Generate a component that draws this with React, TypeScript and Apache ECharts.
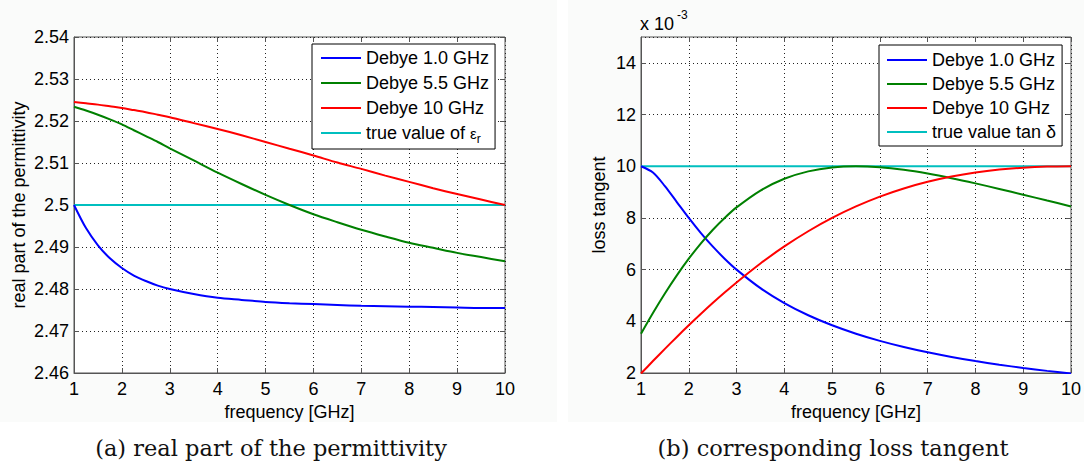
import React, { useEffect, useRef } from 'react';
import * as echarts from 'echarts';

// ---- data ----
const freq = [1, 1.25, 1.5, 1.75, 2, 2.25, 2.5, 2.75, 3, 3.5, 4, 4.5, 5, 5.5, 6, 6.5, 7, 7.5, 8, 8.5, 9, 9.5, 10];

// real part of the permittivity
const realDebye1 = [2.5, 2.4945, 2.4904, 2.4873, 2.485, 2.4832, 2.4819, 2.4808, 2.48, 2.4788, 2.4779, 2.4774, 2.4769, 2.4766, 2.4764, 2.4762, 2.476, 2.4759, 2.4758, 2.4757, 2.4756, 2.4755, 2.4755];
const realDebye55 = [2.5234, 2.5225, 2.5215, 2.5204, 2.5192, 2.5178, 2.5164, 2.515, 2.5135, 2.5106, 2.5077, 2.505, 2.5024, 2.5, 2.4978, 2.4959, 2.4941, 2.4925, 2.491, 2.4898, 2.4886, 2.4876, 2.4866];
const realDebye10 = [2.5245, 2.5242, 2.5239, 2.5235, 2.5231, 2.5226, 2.5221, 2.5215, 2.5209, 2.5195, 2.5181, 2.5166, 2.515, 2.5134, 2.5118, 2.5101, 2.5086, 2.507, 2.5055, 2.504, 2.5026, 2.5013, 2.5];
const realTrue = [2.5, 2.5];
const trueFreq = [1, 10];

// loss tangent (x 10^-3)
const tanDebye1 = [10, 9.756, 9.231, 8.615, 8.0, 7.423, 6.897, 6.423, 6.0, 5.283, 4.706, 4.235, 3.846, 3.52, 3.243, 3.006, 2.8, 2.62, 2.462, 2.321, 2.195, 2.082, 1.98];
const tanDebye55 = [3.52, 4.322, 5.077, 5.779, 6.423, 7.009, 7.534, 8.0, 8.408, 9.059, 9.514, 9.802, 9.955, 10, 9.962, 9.862, 9.716, 9.538, 9.337, 9.122, 8.899, 8.672, 8.445];
const tanDebye10 = [1.98, 2.462, 2.934, 3.396, 3.846, 4.283, 4.706, 5.113, 5.505, 6.236, 6.897, 7.484, 8.0, 8.445, 8.824, 9.139, 9.396, 9.6, 9.756, 9.869, 9.945, 9.987, 10];
const tanTrue = [10, 10];

const seriesNames = ['Debye 1.0 GHz', 'Debye 5.5 GHz', 'Debye 10 GHz'];
const trueNameLeft = 'true value of εr';
const trueNameRight = 'true value tan δ';
const colors = ['#0000ff', '#008000', '#ff0000', '#00bfbf'];

const xTicks = { min: 1, max: 10, interval: 1 };
const yLeft = { min: 2.46, max: 2.54, interval: 0.01 };
const yRight = { min: 2, max: 15, interval: 2 };

const captionLeft = '(a) real part of the permittivity';
const captionRight = '(b) corresponding loss tangent';

const pairs = (xs: number[], ys: number[]) => xs.map((x, i) => [x, ys[i]]);

const FONT = 'Liberation Sans, Arial, Helvetica, sans-serif';
const AXIS_COLOR = '#555';
const LEGEND_ICON = 'path://M0,0L40,0L40,2L0,2Z';

function makeGridAxes(gridIndex: number, y: { min: number; max: number; interval: number }, yName: string, yNameGap: number, showMax: boolean) {
  const fmt = (v: number) => String(parseFloat(v.toFixed(2)));
  const xMain = {
    type: 'value', gridIndex, position: 'bottom', ...xTicks,
    name: 'frequency [GHz]', nameLocation: 'middle', nameGap: 29,
    nameTextStyle: { fontFamily: FONT, fontSize: 18, color: '#000' },
    axisLine: { show: true, lineStyle: { color: AXIS_COLOR, width: 1 } },
    axisTick: { show: true, inside: true, length: 5, lineStyle: { color: AXIS_COLOR } },
    axisLabel: { fontFamily: FONT, fontSize: 18, color: '#000', margin: 7 },
    splitLine: { show: true, lineStyle: { color: '#222', type: [1, 3], width: 1 } },
  };
  const xMirror = {
    type: 'value', gridIndex, position: 'top', ...xTicks,
    axisLine: { show: false }, axisLabel: { show: false }, splitLine: { show: false },
    axisTick: { show: true, inside: true, length: 5, lineStyle: { color: AXIS_COLOR } },
  };
  const yMain = {
    type: 'value', gridIndex, position: 'left', ...y,
    name: yName, nameLocation: 'middle', nameGap: yNameGap, nameRotate: 90,
    nameTextStyle: { fontFamily: FONT, fontSize: 18, color: '#000' },
    axisLine: { show: true, lineStyle: { color: AXIS_COLOR, width: 1 } },
    axisTick: { show: true, inside: true, length: 5, lineStyle: { color: AXIS_COLOR } },
    axisLabel: { fontFamily: FONT, fontSize: 18, color: '#000', margin: 5, formatter: fmt, showMaxLabel: showMax },
    splitLine: { show: true, lineStyle: { color: '#222', type: [1, 3], width: 1 } },
  };
  const yMirror = {
    type: 'value', gridIndex, position: 'right', ...y,
    axisLine: { show: false }, axisLabel: { show: false }, splitLine: { show: false },
    axisTick: { show: true, inside: true, length: 5, lineStyle: { color: AXIS_COLOR } },
  };
  return { xs: [xMain, xMirror], ys: [yMain, yMirror] };
}

function lineSeries(name: string, data: number[][], color: string, xi: number, yi: number, width = 2) {
  return {
    type: 'line', name, data, xAxisIndex: xi, yAxisIndex: yi,
    symbol: 'none', smooth: 0.3, lineStyle: { color, width }, itemStyle: { color },
    emphasis: { disabled: true },
  };
}

const legendRich = {
  e: { fontFamily: FONT, fontSize: 15, color: '#000' },
  s: { fontFamily: FONT, fontSize: 12, color: '#000', padding: [12, 0, 0, 0] },
};

export default function App() {
  const ref = useRef<HTMLDivElement>(null);
  useEffect(() => {
    if (!ref.current) return;
    const chart = echarts.init(ref.current, undefined, { renderer: 'svg' });
    const a = makeGridAxes(0, yLeft, 'real part of the permittivity', 46, true);
    const b = makeGridAxes(1, yRight, 'loss tangent', 33, false);
    const option: any = {
      animation: false,
      backgroundColor: 'transparent',
      grid: [
        { left: 74, top: 37, width: 431, height: 336, show: true, backgroundColor: '#fff', borderColor: AXIS_COLOR, borderWidth: 1 },
        { left: 641, top: 37, width: 431, height: 336, show: true, backgroundColor: '#fff', borderColor: AXIS_COLOR, borderWidth: 1 },
      ],
      xAxis: [...a.xs, ...b.xs],
      yAxis: [...a.ys, ...b.ys],
      legend: [
        {
          left: 312, top: 44, orient: 'vertical', backgroundColor: '#fff', borderColor: '#000', borderWidth: 1,
          padding: [5, 6, 4, 9], itemGap: 7, itemWidth: 40, itemHeight: 14, icon: LEGEND_ICON,
          data: [...seriesNames, trueNameLeft], selectedMode: false,
          textStyle: { fontFamily: FONT, fontSize: 18, color: '#000', rich: legendRich },
          formatter: (n: string) => (n === trueNameLeft ? 'true value of {e|ε}{s|r}' : n),
        },
        {
          left: 879, top: 45, orient: 'vertical', backgroundColor: '#fff', borderColor: '#000', borderWidth: 1,
          padding: [6, 6, 5, 8], itemGap: 6, itemWidth: 40, itemHeight: 14, icon: LEGEND_ICON,
          data: [...seriesNames, trueNameRight], selectedMode: false,
          textStyle: { fontFamily: FONT, fontSize: 18, color: '#000' },
        },
      ],
      series: [
        lineSeries(trueNameLeft, pairs(trueFreq, realTrue), colors[3], 0, 0, 2),
        lineSeries(seriesNames[0], pairs(freq, realDebye1), colors[0], 0, 0),
        lineSeries(seriesNames[1], pairs(freq, realDebye55), colors[1], 0, 0),
        lineSeries(seriesNames[2], pairs(freq, realDebye10), colors[2], 0, 0),
        lineSeries(trueNameRight, pairs(trueFreq, tanTrue), colors[3], 2, 2, 2),
        lineSeries(seriesNames[0], pairs(freq, tanDebye1), colors[0], 2, 2),
        lineSeries(seriesNames[1], pairs(freq, tanDebye55), colors[1], 2, 2),
        lineSeries(seriesNames[2], pairs(freq, tanDebye10), colors[2], 2, 2),
      ],
      graphic: [
        { type: 'text', left: 640, top: 15, style: { text: 'x 10', fontFamily: FONT, fontSize: 18, fill: '#000' } },
        { type: 'text', left: 677, top: 9, style: { text: '-3', fontFamily: FONT, fontSize: 12, fill: '#000' } },
        { type: 'text', x: 271, y: 448, style: { text: captionLeft, fontFamily: 'DejaVu Serif', fontSize: 22.5, fill: '#111', align: 'center', verticalAlign: 'middle' } },
        { type: 'text', x: 833, y: 448, style: { text: captionRight, fontFamily: 'DejaVu Serif', fontSize: 22.5, fill: '#111', align: 'center', verticalAlign: 'middle' } },
      ],
    };
    chart.setOption(option);
    return () => chart.dispose();
  }, []);

  return (
    <div style={{ position: 'fixed', left: 0, top: 0, width: 1084, height: 476, background: '#fff', overflow: 'hidden' }}>
      <div style={{ position: 'absolute', left: 0, top: 0, width: 557, height: 422, background: '#fafbfa' }} />
      <div style={{ position: 'absolute', left: 568, top: 0, width: 516, height: 422, background: '#fafbfa' }} />
      <div ref={ref} style={{ position: 'absolute', left: 0, top: 0, width: 1084, height: 476 }} />
    </div>
  );
}
